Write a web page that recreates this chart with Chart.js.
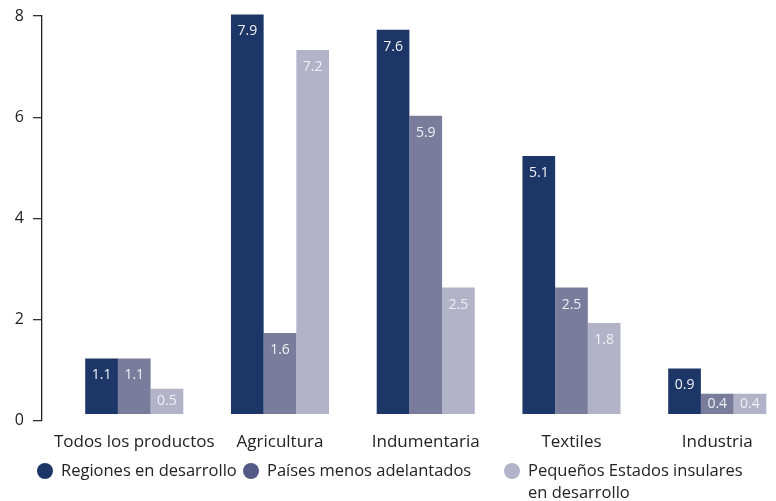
<!DOCTYPE html>
<html>
<head>
<meta charset="utf-8">
<script src="https://cdn.jsdelivr.net/npm/chart.js@4"></script>
<style>
  body { margin: 0; background: #fff; font-family: "Open Sans", sans-serif; }
  #wrap { position: relative; width: 776px; height: 501px; overflow: hidden; }
  #legend { position: absolute; left: 0; top: 459px; font-size: 16.5px; color: #222; line-height: 22px; }
  .item { position: absolute; white-space: nowrap; }
  .dot { position: absolute; width: 16px; height: 16px; border-radius: 50%; top: 4px; }
</style>
</head>
<body>
<div id="wrap">
  <canvas id="chart" width="776" height="501"></canvas>
  <div id="legend"></div>
</div>
<script>
const categories = ["Todos los productos", "Agricultura", "Indumentaria", "Textiles", "Industria"];
const regiones = [1.1, 7.9, 7.6, 5.1, 0.9];
const paises = [1.1, 1.6, 5.9, 2.5, 0.4];
const pequenos = [0.5, 7.2, 2.5, 1.8, 0.4];
const yTicks = [0, 2, 4, 6, 8];

const seriesNames = ["Regiones en desarrollo", "Países menos adelantados", "Pequeños Estados insulares en desarrollo"];
const barColors = ["#1c3667", "#7a7c9c", "#b2b3c8"];
const dotColors = ["#1c3667", "#525a85", "#b2b3c8"];

const toPoints = (arr) => arr.map((v, i) => ({ x: i, y: v }));

// white value labels inside the top of each bar
const valueLabels = {
  id: "valueLabels",
  afterDatasetsDraw(chart) {
    const ctx = chart.ctx;
    ctx.save();
    ctx.font = "14px 'Open Sans', sans-serif";
    ctx.fillStyle = "#f0f0f4";
    ctx.textAlign = "center";
    ctx.textBaseline = "middle";
    chart.data.datasets.forEach((ds, d) => {
      chart.getDatasetMeta(d).data.forEach((bar, i) => {
        const top = bar.y;
        const bottom = bar.base;
        const y = Math.min(top + 17, (top + bottom) / 2);
        ctx.fillText(ds.data[i].y.toFixed(1), bar.x, y);
      });
    });
    ctx.restore();
  }
};

const makeDataset = (label, values, color) => ({
  label: label,
  data: toPoints(values),
  backgroundColor: color,
  yAxisID: "yBars",
  categoryPercentage: 0.673,
  barPercentage: 1.0,
  clip: false
});

new Chart(document.getElementById("chart"), {
  type: "bar",
  data: {
    datasets: [
      makeDataset(seriesNames[0], regiones, barColors[0]),
      makeDataset(seriesNames[1], paises, barColors[1]),
      makeDataset(seriesNames[2], pequenos, barColors[2])
    ]
  },
  options: {
    responsive: false,
    animation: false,
    layout: { padding: { top: 0, left: 8, right: 6, bottom: 46 } },
    plugins: { legend: { display: false }, tooltip: { enabled: false } },
    scales: {
      x: {
        type: "linear",
        offset: false,
        min: -0.633,
        max: 4.362,
        grid: { display: false, offset: false },
        border: { display: false },
        afterBuildTicks: (scale) => {
          scale.ticks = categories.map((c, i) => ({ value: i }));
        },
        ticks: {
          autoSkip: false,
          maxRotation: 0,
          padding: 3,
          color: "#222",
          font: { family: "Open Sans", size: 17 },
          callback: (v) => categories[v]
        }
      },
      y: {
        min: 0,
        max: 8,
        afterFit: (scale) => {
          scale.width = 34;
          scale.paddingTop = 16;
        },
        afterBuildTicks: (scale) => {
          scale.ticks = yTicks.map((v) => ({ value: v }));
        },
        grid: { drawOnChartArea: false, tickLength: 9, color: "#333", lineWidth: 1.3 },
        border: { display: true, color: "#222", width: 1.3 },
        ticks: { padding: 9, color: "#222", font: { family: "Open Sans", size: 16, lineHeight: 1 } }
      },
      // bars sit a little above the axis zero, as in the original
      yBars: {
        display: false,
        min: -0.13,
        max: 7.87
      }
    }
  },
  plugins: [valueLabels]
});

// legend
const legendPos = [37, 243, 504];
const legend = document.getElementById("legend");
seriesNames.forEach((name, i) => {
  const item = document.createElement("div");
  item.className = "item";
  item.style.left = legendPos[i] + "px";
  const dot = document.createElement("span");
  dot.className = "dot";
  dot.style.background = dotColors[i];
  item.appendChild(dot);
  const text = document.createElement("span");
  text.style.marginLeft = "24px";
  text.style.display = "inline-block";
  text.innerHTML = i === 2 ? "Pequeños Estados insulares<br>en desarrollo" : name;
  item.appendChild(text);
  legend.appendChild(item);
});
</script>
</body>
</html>
